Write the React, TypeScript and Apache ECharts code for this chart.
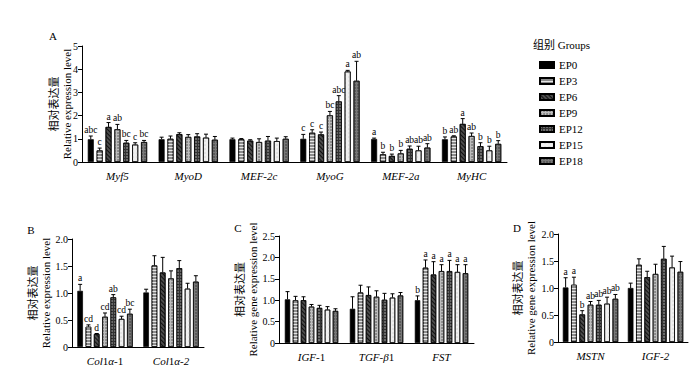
import React, { useEffect, useRef } from 'react';
import * as echarts from 'echarts';

const groups = ['EP0', 'EP3', 'EP6', 'EP9', 'EP12', 'EP15', 'EP18'];

// Panel A
const catsA = ['Myf5', 'MyoD', 'MEF-2c', 'MyoG', 'MEF-2a', 'MyHC'];
const valsA = [
  [0.98, 0.98, 0.98, 1.0, 0.99, 0.98],
  [0.5, 1.0, 0.98, 1.26, 0.33, 1.1],
  [1.51, 1.2, 0.92, 1.19, 0.26, 1.64],
  [1.41, 1.08, 0.86, 2.01, 0.37, 1.12],
  [0.83, 1.1, 0.92, 2.61, 0.57, 0.68],
  [0.75, 1.05, 0.9, 3.9, 0.5, 0.5],
  [0.86, 0.96, 1.0, 3.5, 0.62, 0.78],
];
const errA = [
  [1.12, 1.07, 1.03, 1.19, 1.03, 1.08],
  [0.6, 1.12, 1.01, 1.39, 0.42, 1.13],
  [1.7, 1.26, 0.96, 1.29, 0.34, 1.87],
  [1.62, 1.18, 1.0, 2.18, 0.5, 1.25],
  [0.93, 1.22, 1.1, 2.86, 0.69, 0.83],
  [0.83, 1.2, 1.03, 3.95, 0.68, 0.68],
  [0.93, 1.1, 1.09, 4.34, 0.79, 0.92],
];
const lettersA = [
  ['abc', 'c', 'a', 'ab', 'bc', 'c', 'bc'],
  [],
  [],
  ['c', 'c', 'c', 'bc', 'abc', 'a', 'ab'],
  ['a', 'b', 'b', 'b', 'ab', 'ab', 'ab'],
  ['b', 'ab', 'a', 'ab', 'b', 'b', 'b'],
];

// Panel B
const catsB = ['Col1α-1', 'Col1α-2'];
const valsB = [
  [1.04, 1.01], [0.375, 1.51], [0.24, 1.38], [0.56, 1.27], [0.92, 1.46], [0.52, 1.08], [0.615, 1.21],
];
const errB = [
  [1.16, 1.07], [0.41, 1.69], [0.25, 1.66], [0.63, 1.41], [0.97, 1.6], [0.57, 1.18], [0.7, 1.32],
];
const lettersB = [['a', 'cd', 'd', 'cd', 'ab', 'cd', 'bc'], []];

// Panel C
const catsC = ['IGF-1', 'TGF-β1', 'FST'];
const valsC = [
  [1.02, 0.8, 1.0], [1.0, 1.18, 1.76], [1.0, 1.12, 1.6], [0.85, 1.08, 1.68],
  [0.82, 1.01, 1.68], [0.78, 1.06, 1.66], [0.75, 1.11, 1.63],
];
const errC = [
  [1.2, 1.08, 1.1], [1.09, 1.35, 1.94], [1.08, 1.31, 1.9], [0.9, 1.22, 1.83],
  [0.88, 1.16, 1.93], [0.85, 1.15, 1.83], [0.8, 1.18, 1.83],
];
const lettersC = [[], [], ['b', 'a', 'a', 'a', 'a', 'a', 'a']];

// Panel D
const catsD = ['MSTN', 'IGF-2'];
const valsD = [
  [1.01, 1.0], [1.06, 1.43], [0.51, 1.2], [0.69, 1.26], [0.69, 1.54], [0.71, 1.38], [0.8, 1.3],
];
const errD = [
  [1.19, 1.09], [1.2, 1.54], [0.58, 1.31], [0.75, 1.44], [0.77, 1.77], [0.83, 1.59], [0.88, 1.49],
];
const lettersD = [['a', 'a', 'b', 'ab', 'ab', 'ab', 'ab'], []];

const SERIF = 'Liberation Serif, Times New Roman, serif';
const CJK = 'Liberation Serif, Noto Sans CJK SC, serif';

const fills = ['#000000', '#8c8c8c', '#4d4d4d', '#bdbdbd', '#333333', '#f0f0f0', '#787878'];
const decals: any[] = [
  null,
  { symbol: 'rect', symbolSize: 1, dashArrayX: [1, 0], dashArrayY: [1, 1.6], rotation: 0, color: '#e6e6e6' },
  { symbol: 'rect', symbolSize: 1, dashArrayX: [1, 0], dashArrayY: [1, 1.5], rotation: Math.PI / 4, color: '#111111' },
  { symbol: 'circle', symbolSize: 0.9, dashArrayX: [1.5, 1], dashArrayY: [1.5, 1], rotation: 0, color: '#7a7a7a' },
  { symbol: 'circle', symbolSize: 0.8, dashArrayX: [1.5, 1], dashArrayY: [1.5, 1], rotation: 0, color: '#8a8a8a' },
  { symbol: 'circle', symbolSize: 0.6, dashArrayX: [1.5, 1.5], dashArrayY: [1.5, 1.5], rotation: 0, color: '#c8c8c8' },
  { symbol: 'circle', symbolSize: 0.8, dashArrayX: [1.5, 1], dashArrayY: [1.5, 1], rotation: 0, color: '#4a4a4a' },
];

const catLabel = (s: string) => {
  if (s === 'Col1α-1') return '{i|Col}{n|1}{i|α}{n|-1}';
  if (s === 'Col1α-2') return '{i|Col}{n|1}{i|α-2}';
  if (s === 'IGF-1') return '{i|IGF-}{n|1}';
  if (s === 'TGF-β1') return '{i|TGF-β}{n|1}';
  return '{i|' + s + '}';
};

type Panel = {
  cats: string[]; vals: number[][]; errs: number[][]; letters: string[][];
  grid: any; max: number; interval: number; bw: number; nameGap: number; en: string; dec: boolean;
};

const panels: Panel[] = [
  { cats: catsA, vals: valsA, errs: errA, letters: lettersA, grid: { left: 82, right: 193, top: 46, bottom: 218 }, max: 5, interval: 1, bw: 6, nameGap: 9, en: 'Relative expression level', dec: false },
  { cats: catsB, vals: valsB, errs: errB, letters: lettersB, grid: { left: 72, right: 496, top: 239, bottom: 33 }, max: 2, interval: 0.5, bw: 5.6, nameGap: 20, en: 'Relative expression level', dec: true },
  { cats: catsC, vals: valsC, errs: errC, letters: lettersC, grid: { left: 279, right: 226, top: 236, bottom: 37 }, max: 2.5, interval: 0.5, bw: 5.4, nameGap: 20, en: 'Relative gene expression level', dec: true },
  { cats: catsD, vals: valsD, errs: errD, letters: lettersD, grid: { left: 558, right: 12, top: 234, bottom: 38 }, max: 2, interval: 0.5, bw: 5.6, nameGap: 21, en: 'Relative gene expression level', dec: true },
];

const GAP = 0.48;

export default function App() {
  const ref = useRef<HTMLDivElement>(null);
  useEffect(() => {
    document.body.style.margin = '0';
    if (!ref.current) return;
    const chart = echarts.init(ref.current, undefined, { renderer: 'svg' });
    const series: any[] = [];
    panels.forEach((p, pi) => {
      groups.forEach((g, gi) => {
        series.push({
          type: 'bar', name: g, xAxisIndex: pi, yAxisIndex: pi, data: p.vals[gi],
          barWidth: p.bw, barGap: GAP * 100 + '%',
          itemStyle: { color: fills[gi], borderColor: '#000', borderWidth: 0.7, decal: decals[gi] || undefined },
          emphasis: { disabled: true }, z: 2,
        });
      });
      const slot = p.bw * (1 + GAP);
      const data: number[][] = [];
      p.cats.forEach((_, ci) => {
        groups.forEach((_, gi) => data.push([ci, gi, p.vals[gi][ci], p.errs[gi][ci]]));
      });
      series.push({
        type: 'custom', xAxisIndex: pi, yAxisIndex: pi, data, z: 5, silent: true,
        itemStyle: { color: '#000' },
        encode: { x: 0, y: [2, 3] },
        renderItem: (params: any, api: any) => {
          const ci = api.value(0) as number;
          const gi = api.value(1) as number;
          const v = api.value(2) as number;
          const e = api.value(3) as number;
          const p0 = api.coord([ci, v]);
          const p1 = api.coord([ci, e]);
          const x = p0[0] + (gi - 3) * slot;
          const st = { stroke: '#000', lineWidth: 1 };
          const children: any[] = [
            { type: 'line', shape: { x1: x, y1: p0[1], x2: x, y2: p1[1] }, style: st },
            { type: 'line', shape: { x1: x - 2, y1: p1[1], x2: x + 2, y2: p1[1] }, style: st },
          ];
          const letter = (p.letters[ci] || [])[gi];
          if (letter) {
            children.push({
              type: 'text', x, y: p1[1] - 1,
              style: { text: letter, fontSize: 9.5, fontFamily: SERIF, fill: '#000', align: 'center', verticalAlign: 'bottom' },
            });
          }
          return { type: 'group', children };
        },
      });
    });

    const option: any = {
      animation: false,
      backgroundColor: '#fff',
      grid: panels.map((p) => p.grid),
      xAxis: panels.map((p, pi) => ({
        type: 'category', gridIndex: pi, data: p.cats,
        axisLine: { lineStyle: { color: '#000', width: 1 } },
        axisTick: { alignWithLabel: true, interval: 0, length: 4, lineStyle: { color: '#000' } },
        axisLabel: {
          margin: 8, interval: 0, formatter: catLabel,
          rich: {
            i: { fontStyle: 'italic', fontSize: 11, fontFamily: SERIF, color: '#000' },
            n: { fontStyle: 'normal', fontSize: 11, fontFamily: SERIF, color: '#000' },
          },
        },
      })),
      yAxis: panels.map((p, pi) => ({
        type: 'value', gridIndex: pi, min: 0, max: p.max, interval: p.interval,
        name: '相对表达量\n' + p.en, nameLocation: 'middle', nameRotate: 90, nameGap: p.nameGap,
        nameMoveOverlap: false,
        nameTextStyle: { fontSize: 11, fontFamily: CJK, color: '#000', lineHeight: 13 },
        axisLine: { show: true, lineStyle: { color: '#000', width: 1 } },
        axisTick: { show: true, length: 4, lineStyle: { color: '#000' } },
        splitLine: { show: false },
        axisLabel: {
          fontSize: 10, fontFamily: SERIF, color: '#000', margin: 4,
          formatter: (v: number) => (p.dec && v !== 0 ? v.toFixed(1) : String(v)),
        },
      })),
      legend: {
        orient: 'vertical', left: 534, top: 54, itemWidth: 14, itemHeight: 6, itemGap: 4,
        icon: 'rect', data: groups, selectedMode: false,
        textStyle: { fontSize: 11, fontFamily: SERIF, color: '#000', lineHeight: 12 },
      },
      graphic: [
        { type: 'text', left: 533, top: 39, style: { text: '组别 Groups', fontSize: 11, fontFamily: CJK, fill: '#000' } },
        { type: 'text', x: 53, y: 36, style: { text: 'A', fontSize: 11, fontFamily: SERIF, fill: '#000', align: 'center', verticalAlign: 'middle' } },
        { type: 'text', x: 31, y: 230, style: { text: 'B', fontSize: 11, fontFamily: SERIF, fill: '#000', align: 'center', verticalAlign: 'middle' } },
        { type: 'text', x: 238, y: 228, style: { text: 'C', fontSize: 11, fontFamily: SERIF, fill: '#000', align: 'center', verticalAlign: 'middle' } },
        { type: 'text', x: 517, y: 228, style: { text: 'D', fontSize: 11, fontFamily: SERIF, fill: '#000', align: 'center', verticalAlign: 'middle' } },
      ],
      series,
    };
    chart.setOption(option);
    return () => chart.dispose();
  }, []);
  return <div ref={ref} style={{ width: 700, height: 380 }} />;
}
